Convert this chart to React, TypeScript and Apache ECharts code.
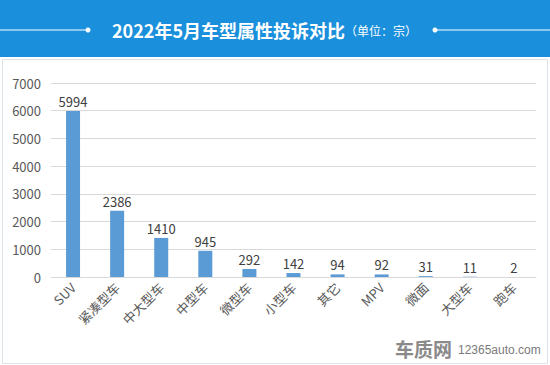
import React, { useEffect, useRef } from "react";
import * as echarts from "echarts";

const categories = ["SUV", "紧凑型车", "中大型车", "中型车", "微型车", "小型车", "其它", "MPV", "微面", "大型车", "跑车"];
const values = [5994, 2386, 1410, 945, 292, 142, 94, 92, 31, 11, 2];
const yTicks = [0, 1000, 2000, 3000, 4000, 5000, 6000, 7000];

const FONT = "'Noto Sans CJK SC', 'Noto Sans', sans-serif";

export default function App() {
  const ref = useRef<HTMLDivElement>(null);
  useEffect(() => {
    const chart = echarts.init(ref.current!, null, { renderer: "svg" });
    chart.setOption({
      animation: false,
      backgroundColor: "#ffffff",
      textStyle: { fontFamily: FONT },
      grid: { left: 51, right: 14, top: 83, bottom: 88 },
      xAxis: {
        type: "category",
        data: categories,
        axisLine: { lineStyle: { color: "#d9d9d9" } },
        axisTick: { show: false },
        axisLabel: { rotate: 45, color: "#595959", fontSize: 13, fontFamily: FONT, margin: 8, interval: 0 },
      },
      yAxis: {
        type: "value",
        min: yTicks[0],
        max: yTicks[yTicks.length - 1],
        interval: 1000,
        axisLine: { show: false },
        axisTick: { show: false },
        splitLine: { lineStyle: { color: "#d9d9d9" } },
        axisLabel: { color: "#595959", fontSize: 13, fontFamily: FONT, margin: 10, formatter: (v: number) => String(v) },
      },
      series: [
        {
          type: "bar",
          data: values,
          barWidth: 14,
          itemStyle: { color: "#5b9bd5" },
          label: { show: true, position: "top", color: "#404040", fontSize: 13, fontFamily: FONT, distance: 3 },
        },
      ],
      graphic: [
        { type: "rect", shape: { x: 0, y: 0, width: 550, height: 57 }, style: { fill: "#1a8fdc" }, z: 10 },
        { type: "rect", shape: { x: 2.5, y: 59.5, width: 545, height: 304 }, style: { fill: "none", stroke: "#dde3ea", lineWidth: 1 }, z: 1 },
        { type: "line", shape: { x1: 0, y1: 30, x2: 88, y2: 30 }, style: { stroke: "#ffffff", lineWidth: 1 }, z: 11 },
        { type: "circle", shape: { cx: 88, cy: 30, r: 2.5 }, style: { fill: "#ffffff" }, z: 11 },
        { type: "line", shape: { x1: 435, y1: 30, x2: 550, y2: 30 }, style: { stroke: "#ffffff", lineWidth: 1 }, z: 11 },
        { type: "circle", shape: { cx: 435, cy: 30, r: 2.5 }, style: { fill: "#ffffff" }, z: 11 },
        {
          type: "text",
          x: 112,
          y: 30,
          z: 12,
          style: {
            text: "{a|2022年5月车型属性投诉对比}{b|（单位：宗）}",
            verticalAlign: "middle",
            align: "left",
            rich: {
              a: { fontSize: 18, fontWeight: "bold", fill: "#ffffff", fontFamily: FONT },
              b: { fontSize: 12, fill: "#ffffff", fontFamily: FONT },
            },
          },
        },
        {
          type: "text",
          x: 395,
          y: 348,
          z: 12,
          style: { text: "车质网", fontSize: 19, fontWeight: "bold", fill: "#8a8a8a", fontFamily: FONT, verticalAlign: "middle" },
        },
        {
          type: "text",
          x: 458,
          y: 350,
          z: 12,
          style: { text: "12365auto.com", fontSize: 12, fill: "#7a7a7a", fontFamily: "'Liberation Sans', Arial, sans-serif", verticalAlign: "middle" },
        },
      ],
    });
    return () => chart.dispose();
  }, []);
  return <div ref={ref} style={{ position: "fixed", left: 0, top: 0, width: 550, height: 365 }} />;
}
